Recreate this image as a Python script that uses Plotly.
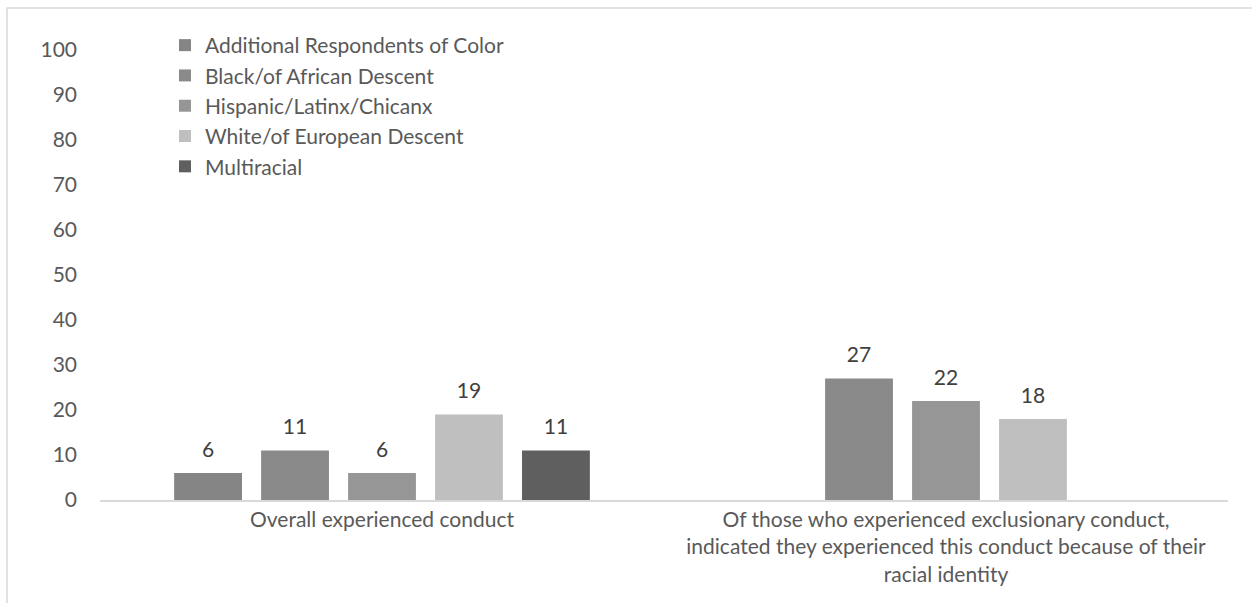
import plotly.graph_objects as go

# Categories (multi-line axis labels) and series values
categories = [
    "Overall experienced conduct",
    "Of those who experienced exclusionary conduct,<br>indicated they experienced this conduct because of their<br>racial identity",
]
series_names = [
    "Additional Respondents of Color",
    "Black/of African Descent",
    "Hispanic/Latinx/Chicanx",
    "White/of European Descent",
    "Multiracial",
]
additional = [6, None]
black = [11, 27]
hispanic = [6, 22]
white = [19, 18]
multiracial = [11, None]
series_values = [additional, black, hispanic, white, multiracial]
series_colors = ["#858585", "#8a8a8a", "#969696", "#bfbfbf", "#5f5f5f"]

y_ticks = list(range(0, 101, 10))

FONT = "Lato, Open Sans, sans-serif"
GAP = 0.229

fig = go.Figure()
for i, (name, vals, col) in enumerate(zip(series_names, series_values, series_colors)):
    fig.add_trace(go.Bar(
        name=name,
        x=categories,
        y=vals,
        marker=dict(color=col, line=dict(width=0)),
        legendgroup=f"g{i}",
        hoverinfo="skip",
    ))

# Value labels: grouped text points sitting above each bar
for i, (name, vals) in enumerate(zip(series_names, series_values)):
    fig.add_trace(go.Scatter(
        x=categories,
        y=vals,
        mode="markers+text",
        marker=dict(size=16, opacity=0),
        text=[("" if v is None else f"{v:.0f}") for v in vals],
        textposition="top center",
        textfont=dict(color="#404040", size=21, family=FONT),
        showlegend=False,
        cliponaxis=False,
        hoverinfo="skip",
    ))

fig.update_layout(
    barmode="group",
    bargap=GAP,
    bargroupgap=0.22,
    scattermode="group",
    scattergap=GAP,
    width=1252,
    height=603,
    margin=dict(l=100, r=24, t=50, b=103),
    paper_bgcolor="white",
    plot_bgcolor="white",
    font=dict(family=FONT, size=21, color="#595959"),
    showlegend=True,
    legend=dict(
        x=0.0576, y=1.0556, xanchor="left", yanchor="top",
        bgcolor="rgba(0,0,0,0)",
        font=dict(size=21, color="#595959", family=FONT),
        tracegroupgap=0,
        itemclick=False,
    ),
    xaxis=dict(
        showline=True, linecolor="#d9d9d9", linewidth=1.5,
        showgrid=False, ticks="", ticklabelstandoff=0, automargin=False,
        tickfont=dict(size=21, color="#595959"),
    ),
    yaxis=dict(
        range=[0, 100], tickvals=y_ticks, showgrid=False, showline=False,
        zeroline=False, ticks="", ticklabelstandoff=22, automargin=False,
        tickfont=dict(size=21, color="#595959"),
    ),
)

# Chart-area border (left and top edges visible)
fig.add_shape(
    type="path",
    xref="paper", yref="paper",
    path="M -0.0824,-0.3 L -0.0824,1.0933 L 1.05,1.0933",
    line=dict(color="#d9d9d9", width=1.5),
    layer="below",
)

fig.write_html("out.html")
